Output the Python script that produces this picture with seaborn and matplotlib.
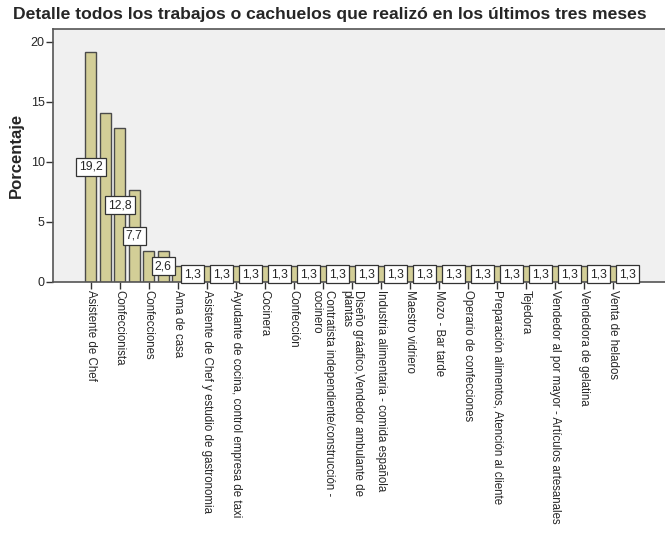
import pandas as pd
import matplotlib
matplotlib.use("Agg")
import matplotlib.pyplot as plt
import seaborn as sns

# 38 ocupaciones; SPSS solo rotula una de cada dos en el eje
ocupaciones = [
    'Asistente de Chef', 'Ocupación 2', 'Confeccionista', 'Ocupación 4',
    'Confecciones', 'Ocupación 6', 'Ama de casa', 'Ocupación 8',
    'Asistente de Chef y estudio de gastronomia', 'Ocupación 10',
    'Ayudante de cocina, control empresa de taxi', 'Ocupación 12',
    'Cocinera', 'Ocupación 14', 'Confección', 'Ocupación 16',
    'Contratista independiente/construcción -\ncocinero', 'Ocupación 18',
    'Diseño gráafico,Vendedor ambulante de\nplantas', 'Ocupación 20',
    'Industria alimentaria - comida española', 'Ocupación 22',
    'Maestro vidriero', 'Ocupación 24', 'Mozo - Bar tarde', 'Ocupación 26',
    'Operario de confecciones', 'Ocupación 28',
    'Preparación alimentos, Atención al cliente', 'Ocupación 30',
    'Tejedora', 'Ocupación 32',
    'Vendedor al por mayor - Artículos artesanales', 'Ocupación 34',
    'Vendedora de gelatina', 'Ocupación 36', 'Venta de helados', 'Ocupación 38',
]
porcentaje = [19.2, 14.1, 12.8, 7.7, 2.6, 2.6] + [1.3] * 32
# barras con etiqueta de valor visible
con_etiqueta = [0, 2, 3, 5] + list(range(7, 38, 2))

df = pd.DataFrame({'ocupacion': ocupaciones, 'porcentaje': porcentaje})

sns.set_style('ticks')
plt.rcParams['font.family'] = ['Liberation Sans', 'DejaVu Sans']

fig = plt.figure(figsize=(6.65, 5.36), dpi=100)
ax = fig.add_axes([53 / 665, 1 - 282 / 536, 1 - 53 / 665, 253 / 536])
ax.set_facecolor('#F0F0F0')

sns.barplot(data=df, x='ocupacion', y='porcentaje', color='#D3CE97',
            saturation=1, edgecolor='#4A4A4A', linewidth=1, width=0.78, ax=ax)

for i in con_etiqueta:
    v = porcentaje[i]
    ax.text(i, v / 2, f'{v:.1f}'.replace('.', ','), ha='center', va='center',
            fontsize=8.8,
            bbox=dict(boxstyle='square,pad=0.25', fc='white', ec='#333333', lw=0.9))

ax.set_xlim(-2.6, 39.6)
ax.set_ylim(0, 21.08)
ax.set_yticks([0, 5, 10, 15, 20])
ax.tick_params(axis='y', labelsize=9, length=5, width=1, color='#333333', pad=1)

pos = list(range(0, 38, 2))
ax.set_xticks(pos)
ax.set_xticklabels([ocupaciones[i] for i in pos], rotation=270, fontsize=8.3,
                   linespacing=0.95, multialignment='left')
ax.tick_params(axis='x', length=5, width=1, color='#333333', pad=1)

for s in ['left', 'bottom', 'top']:
    ax.spines[s].set_color('#555555')
    ax.spines[s].set_linewidth(1.2)
ax.spines['right'].set_visible(False)

ax.set_xlabel('')
ax.set_ylabel('Porcentaje', fontsize=12, fontweight='bold', labelpad=5)

fig.text(0.4955, 1 - 14 / 536, 'Detalle todos los trabajos o cachuelos que realizó en los últimos tres meses',
         ha='center', va='center', fontsize=12.6, fontweight='bold')

fig.savefig('out.png', dpi=100)
